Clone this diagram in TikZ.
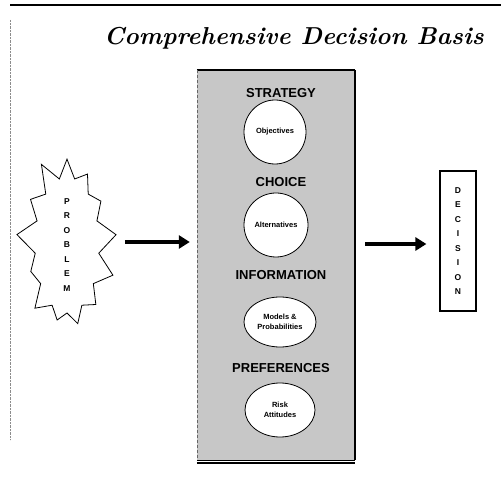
\documentclass[tikz,border=0pt]{standalone}
\usepackage{fontspec}
\setsansfont{Liberation Sans}
\usetikzlibrary{shapes.geometric,shapes.symbols,arrows.meta}

\tikzset{
    heading/.style={font=\sffamily\bfseries\fontsize{13}{14}\selectfont, inner sep=1pt},
    bubble/.style={ellipse, draw, thick, fill=white, align=center,
        font=\sffamily\bfseries\fontsize{7.5}{10}\selectfont, inner sep=0pt},
    bigarrow/.style={line width=4.5pt, -{Triangle[length=11pt,width=13pt]}},
    letters/.style={align=center, font=\sffamily\bfseries\fontsize{8.5}{14.5}\selectfont}
}

\begin{document}
\begin{tikzpicture}[x=1pt,y=-1pt]

        % ===============================
        % Marco de la hoja
        % ===============================
        \useasboundingbox (0,0) rectangle (501,478);
        \draw[line width=1.2pt] (10,5) -- (501,5);
        \draw[black!45, densely dotted] (10,20) -- (10,440);

        \node[font=\bfseries\itshape\fontsize{24.5}{30}\selectfont] (title) at (294,38)
            {Comprehensive Decision Basis};

        % ===============================
        % Panel central (base de decision)
        % ===============================
        \node[rectangle, fill=black!22, minimum width=158pt, minimum height=390pt,
            inner sep=0pt] (panel) at (276,265) {};
        \draw[line width=2.5pt] (panel.north west) -- (panel.north east);
        \draw[line width=2.5pt] (panel.north east) -- (panel.south east);
        \draw[black!60, densely dashed] (panel.north west) -- (panel.south west);
        \draw[line width=1.8pt] ([yshift=-3pt]panel.south west) -- ([yshift=-3pt]panel.south east);
        \draw[line width=0.8pt] (panel.south west) -- (panel.south east);

        % Secciones: encabezado y burbuja
        \foreach \key/\hy/\cx/\cy/\w/\h/\head/\body in {
                strat/93/275/132/62/64/STRATEGY/{Objectives},
                choice/182/276/225/64/64/CHOICE/{Alternatives},
                info/275/280/322/72/50/INFORMATION/{Models \&\\ Probabilities},
                pref/368/280/410/70/54/PREFERENCES/{Risk\\ Attitudes}}{
                \node[heading] (h\key) at (281,\hy) {\head};
                \node[bubble, minimum width=\w pt, minimum height=\h pt] (c\key) at (\cx,\cy) {\body};
            }

        % ===============================
        % Problema y decision
        % ===============================
        \node[starburst, draw, thick, random starburst=11, starburst points=13,
            starburst point height=24pt, minimum width=112pt, minimum height=184pt,
            letters, inner sep=0pt] (problem) at (67,245)
            {P\\ R\\ O\\ B\\ L\\ E\\ M};

        \node[rectangle, draw, line width=1.2pt, minimum width=36pt, minimum height=140pt,
            letters, inner sep=0pt] (decision) at (458,241)
            {D\\ E\\ C\\ I\\ S\\ I\\ O\\ N};

        % Flechas
        \draw[bigarrow, shorten <=18pt, shorten >=7pt] (problem.east |- 0,242) -- (panel.west |- 0,242);
        \draw[bigarrow, shorten <=10pt, shorten >=13pt] (panel.east |- 0,244) -- (decision.west |- 0,244);

    \end{tikzpicture}
\end{document}
